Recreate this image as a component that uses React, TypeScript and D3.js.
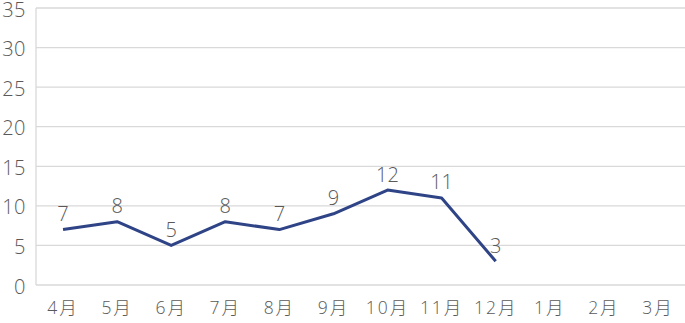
import React from "react";
import * as d3 from "d3";

const months = ["4月", "5月", "6月", "7月", "8月", "9月", "10月", "11月", "12月", "1月", "2月", "3月"];
const values: (number | null)[] = [7, 8, 5, 8, 7, 9, 12, 11, 3, null, null, null];
const yTicks = [0, 5, 10, 15, 20, 25, 30, 35];

const W = 685, H = 323;
const left = 36, right = 685, top = 8, bottom = 285;
const font = "'Open Sans', 'Noto Sans CJK JP', sans-serif";

export default function App() {
  const x = d3.scaleBand<string>().domain(months).range([left, right]);
  const y = d3.scaleLinear().domain([0, 35]).range([bottom, top]);
  const pts = months
    .map((m, i) => ({ m, v: values[i] }))
    .filter((d) => d.v !== null) as { m: string; v: number }[];
  const line = d3
    .line<{ m: string; v: number }>()
    .x((d) => (x(d.m) as number) + x.bandwidth() / 2)
    .y((d) => y(d.v));
  return (
    <svg width={W} height={H} style={{ position: "absolute", left: 0, top: 0, background: "#fff" }}>
      {yTicks.map((t) => (
        <g key={t}>
          <line x1={left} x2={right} y1={y(t)} y2={y(t)} stroke="#d9d9d9" strokeWidth={1.3} />
          <text x={26} y={y(t) + 8.5} textAnchor="end" fontSize={20} fontWeight={300} letterSpacing={0.5} fill="#595959" fontFamily={font}>
            {t}
          </text>
        </g>
      ))}
      <line x1={left} x2={left} y1={top} y2={bottom} stroke="#d9d9d9" strokeWidth={1.3} />
      {months.map((m) => (
        <text
          key={m}
          x={(x(m) as number) + x.bandwidth() / 2}
          y={314}
          textAnchor="middle"
          fontSize={17.5}
          fontWeight={300}
          letterSpacing={2}
          fill="#595959"
          fontFamily={font}
        >
          {m}
        </text>
      ))}
      <path d={line(pts) || ""} fill="none" stroke="#2f4486" strokeWidth={3} strokeLinejoin="round" />
      {pts.map((d) => (
        <text
          key={d.m}
          x={(x(d.m) as number) + x.bandwidth() / 2}
          y={y(d.v) - 8.5}
          textAnchor="middle"
          fontSize={20}
          fontWeight={300}
          fill="#595959"
          fontFamily={font}
        >
          {d.v}
        </text>
      ))}
    </svg>
  );
}
